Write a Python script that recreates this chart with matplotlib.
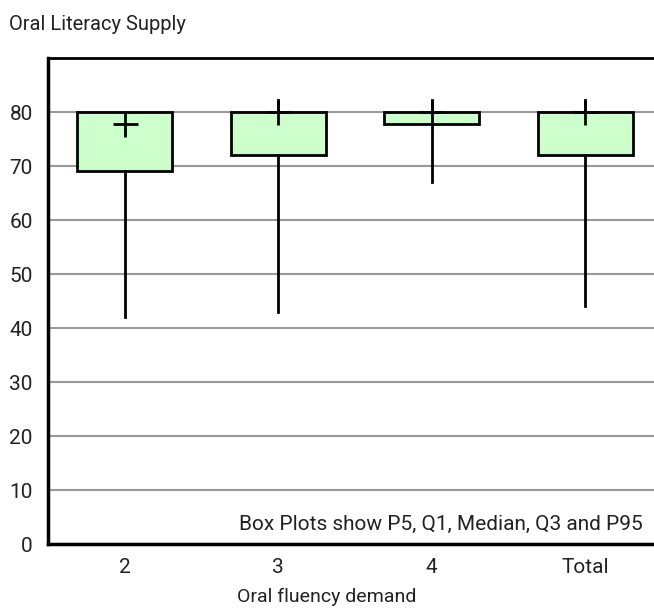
import matplotlib
matplotlib.use("Agg")
import matplotlib.pyplot as plt

plt.rcParams['font.family'] = ['Roboto', 'DejaVu Sans']

# Oral literacy supply by oral fluency demand level
categories = ["2", "3", "4", "Total"]
p5 = [42, 43, 67, 44]
q1 = [69, 72, 77.7, 72]
median = [77.7, 80, 80, 80]
q3 = [80, 80, 80, 80]
p95 = [80, 82.2, 82.2, 82.2]

y_ticks = [0, 10, 20, 30, 40, 50, 60, 70, 80]

fig = plt.figure(figsize=(6.54, 6.10), dpi=100)
ax = fig.add_axes([48 / 654, 66 / 610, 614 / 654, 486 / 610])

stats = []
for i, name in enumerate(categories):
    stats.append(dict(label=name, whislo=p5[i], q1=q1[i], med=median[i],
                      q3=q3[i], whishi=p95[i]))

positions = list(range(len(categories)))
ax.bxp(stats, positions=positions, widths=0.62, patch_artist=True,
       showcaps=False, showfliers=False,
       boxprops=dict(facecolor="#ccffcc", edgecolor="black", linewidth=2),
       whiskerprops=dict(color="black", linewidth=2),
       medianprops=dict(linestyle="none"), zorder=3)

# median drawn as a cross
ax.plot(positions, median, linestyle="none", marker="+", markersize=18,
        markeredgewidth=2, color="black", zorder=4)

ax.set_xlim(-0.5, 3.5)
ax.set_ylim(0, 90)
ax.set_yticks(y_ticks)
ax.set_xticks(positions)
ax.set_xticklabels(categories)
ax.tick_params(axis="both", length=0, labelsize=15, labelcolor="#222222")
ax.tick_params(axis="y", pad=11)
ax.tick_params(axis="x", pad=10)

ax.yaxis.grid(True, color="#999999", linewidth=1.5, zorder=0)
ax.set_axisbelow(True)

for side in ["left", "bottom"]:
    ax.spines[side].set_linewidth(2.5)
ax.spines["top"].set_linewidth(2)
ax.spines["right"].set_visible(False)

ax.text(0.969, 0.04, "Box Plots show P5, Q1, Median, Q3 and P95",
        transform=ax.transAxes, ha="right", va="center", fontsize=15,
        color="#222222")

fig.text(327 / 654, 1 - 597 / 610, "Oral fluency demand", ha="center",
         va="center", fontsize=14, color="#222222")
fig.text(9 / 654, 1 - 25 / 610, "Oral Literacy Supply", ha="left",
         va="center", fontsize=14.5, color="#222222")

fig.savefig("out.png", dpi=100)
